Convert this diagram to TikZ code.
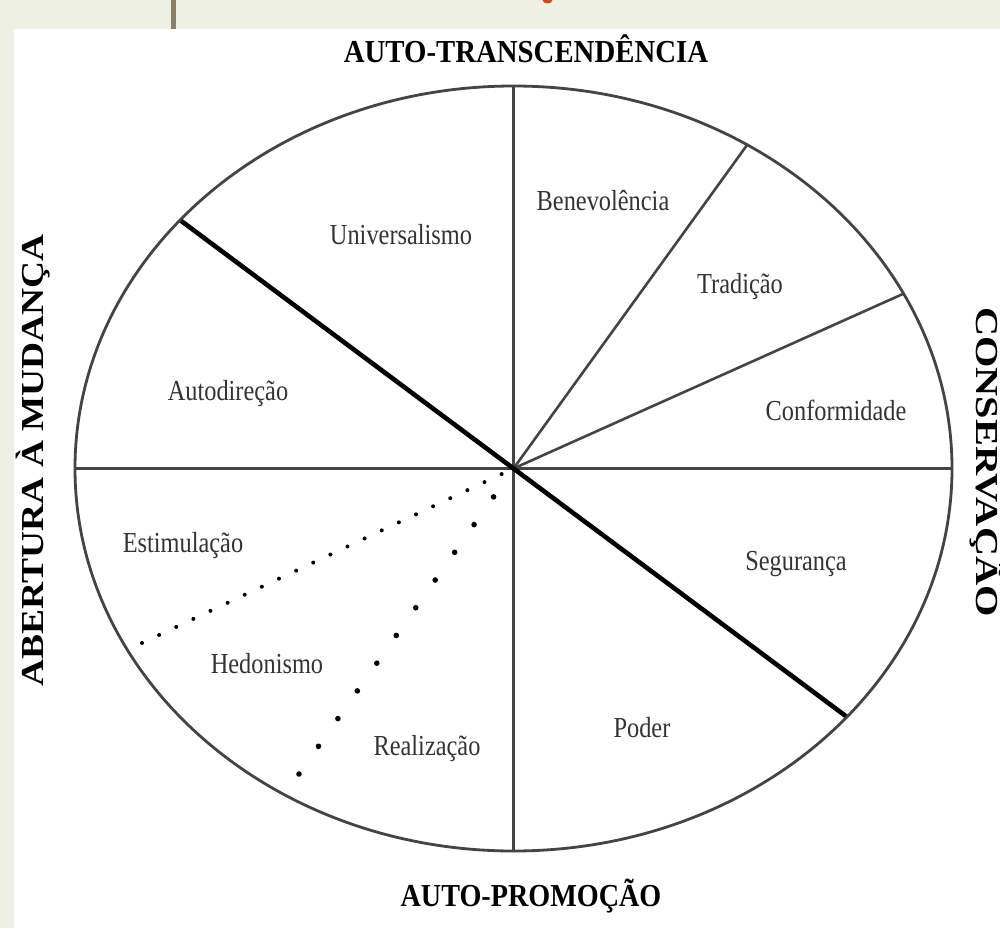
\documentclass[tikz,border=0pt]{standalone}
\usepackage{fontspec}
\setmainfont{Liberation Serif}
\usetikzlibrary{calc}
\definecolor{bgg}{HTML}{EEF0E3}
\definecolor{brownline}{HTML}{8A8068}
\definecolor{redmark}{HTML}{C0501C}
\definecolor{linegray}{HTML}{444444}
\definecolor{labgray}{HTML}{333333}
\tikzset{
  thinline/.style={draw=linegray, line width=2.6pt},
  thickline/.style={draw=black, line width=4.6pt},
  lab/.style={anchor=base, text=labgray, inner sep=0pt, font=\fontsize{29}{34}\selectfont},
  title/.style={anchor=base, text=black, inner sep=0pt, font=\fontsize{32}{38}\selectfont\bfseries},
}
\newcommand{\cnd}[1]{\scalebox{0.84}[1]{#1}}
\begin{document}
\begin{tikzpicture}[x=1pt,y=-1pt]
\useasboundingbox (0,0) rectangle (1000,928);
\fill[bgg] (0,0) rectangle (1000,928);
\fill[white] (14,29) rectangle (1000,928);
\fill[brownline] (171,0) rectangle (176,29);
\fill[redmark] (542.5,0) arc[start angle=180, end angle=360, x radius=5, y radius=-3.5] -- cycle;

\coordinate (O) at (513.5,468.5);
\coordinate (top) at (513.5,86);
\coordinate (bot) at (513.5,851);
\coordinate (lft) at (75,468.5);
\coordinate (rgt) at (952,468.5);
\coordinate (ul) at (180.1,220.1);
\coordinate (lr) at (846.9,716.9);
\coordinate (bt) at (747.2,144.8);
\coordinate (tc) at (903.5,293.7);
\coordinate (d1) at (142,643);
\coordinate (d2) at (299,774);

\draw[thinline] (top) -- (O) -- (bot);
\draw[thinline] (lft) -- (O) -- (rgt);
\draw[thinline] (O) -- (bt);
\draw[thinline] (O) -- (tc);
\draw[thickline] (ul) -- (lr);
\draw[line width=2.8pt, draw=linegray] (O) ellipse [x radius=438.5, y radius=382.5];

\foreach \i in {0,...,21} \fill[black] ($(O)!{0.032+\i*0.0461}!(d1)$) circle (2);
\foreach \i in {0,...,10} \fill[black] ($(O)!{0.093+\i*0.0907}!(d2)$) circle (2.8);

\node[lab] (univ) at (401,244) {\cnd{Universalismo}};
\node[lab] (bene) at (603,210) {\cnd{Benevolência}};
\node[lab] (trad) at (740,293) {\cnd{Tradição}};
\node[lab] (conf) at (836,420) {\cnd{Conformidade}};
\node[lab] (autod) at (228,400) {\cnd{Autodireção}};
\node[lab] (esti) at (183,552) {\cnd{Estimulação}};
\node[lab] (segu) at (796,570) {\cnd{Segurança}};
\node[lab] (hedo) at (267,673) {\cnd{Hedonismo}};
\node[lab] (real) at (427,755) {\cnd{Realização}};
\node[lab] (pode) at (642,737) {\cnd{Poder}};

\node[title] (tt) at (526,63) {\scalebox{0.9}[1]{AUTO-TRANSCENDÊNCIA}};
\node[title] (tp) at (531,906) {\scalebox{0.88}[1]{AUTO-PROMOÇÃO}};
\node[title, rotate=90] (tl) at (43,460) {\scalebox{1.17}[1]{ABERTURA À MUDANÇA}};
\node[title, rotate=-90] (tr) at (976,462) {\scalebox{1.26}[1]{CONSERVAÇÃO}};
\end{tikzpicture}
\end{document}
